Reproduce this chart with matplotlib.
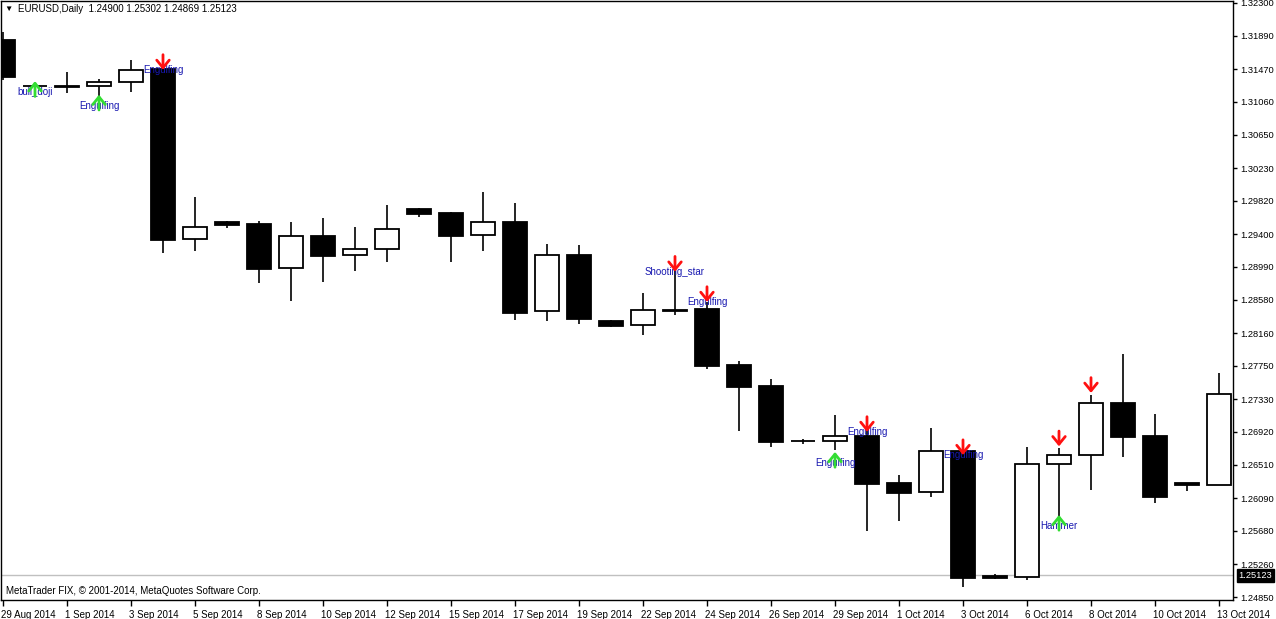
import numpy as np
import matplotlib.pyplot as plt
import matplotlib.transforms as mtransforms

plt.rcParams['font.family'] = ['Liberation Sans', 'DejaVu Sans']

# daily bars (MetaTrader shows the short sunday bars too)
dates = ['29 Aug 2014', '31 Aug 2014', '1 Sep 2014', '2 Sep 2014', '3 Sep 2014', '4 Sep 2014',
         '5 Sep 2014', '7 Sep 2014', '8 Sep 2014', '9 Sep 2014', '10 Sep 2014', '11 Sep 2014',
         '12 Sep 2014', '14 Sep 2014', '15 Sep 2014', '16 Sep 2014', '17 Sep 2014', '18 Sep 2014',
         '19 Sep 2014', '21 Sep 2014', '22 Sep 2014', '23 Sep 2014', '24 Sep 2014', '25 Sep 2014',
         '26 Sep 2014', '28 Sep 2014', '29 Sep 2014', '30 Sep 2014', '1 Oct 2014', '2 Oct 2014',
         '3 Oct 2014', '5 Oct 2014', '6 Oct 2014', '7 Oct 2014', '8 Oct 2014', '9 Oct 2014',
         '10 Oct 2014', '12 Oct 2014', '13 Oct 2014']

opens = [1.3184, 1.3126, 1.3126, 1.3126, 1.3131, 1.3147, 1.2934, 1.2955, 1.2953, 1.2898,
         1.2938, 1.2914, 1.2921, 1.2972, 1.2967, 1.2939, 1.2955, 1.2844, 1.2914, 1.2831,
         1.2826, 1.2845, 1.2846, 1.2776, 1.2750, 1.2681, 1.2681, 1.2687, 1.2628, 1.2617,
         1.2668, 1.2511, 1.2510, 1.2652, 1.2663, 1.2728, 1.2687, 1.2628, 1.2626]
highs = [1.3194, 1.3130, 1.3143, 1.3135, 1.3159, 1.3161, 1.2987, 1.2957, 1.2957, 1.2955,
         1.2960, 1.2949, 1.2977, 1.2973, 1.2968, 1.2993, 1.2979, 1.2928, 1.2926, 1.2832,
         1.2866, 1.2903, 1.2855, 1.2781, 1.2758, 1.2683, 1.2713, 1.2701, 1.2638, 1.2697,
         1.2676, 1.2514, 1.2673, 1.2672, 1.2738, 1.2790, 1.2715, 1.2628, 1.2766]
lows = [1.3133, 1.3125, 1.3117, 1.3110, 1.3118, 1.2917, 1.2919, 1.2948, 1.2879, 1.2856,
        1.2880, 1.2894, 1.2905, 1.2962, 1.2905, 1.2919, 1.2832, 1.2831, 1.2827, 1.2824,
        1.2814, 1.2839, 1.2771, 1.2693, 1.2673, 1.2677, 1.2669, 1.2568, 1.2580, 1.2610,
        1.2498, 1.2508, 1.2506, 1.2578, 1.2619, 1.2661, 1.2603, 1.2618, 1.2625]
closes = [1.3137, 1.3126, 1.3125, 1.3131, 1.3146, 1.2933, 1.2949, 1.2952, 1.2896, 1.2938,
          1.2913, 1.2921, 1.2947, 1.2965, 1.2938, 1.2955, 1.2841, 1.2914, 1.2834, 1.2825,
          1.2845, 1.2844, 1.2775, 1.2748, 1.2679, 1.2681, 1.2687, 1.2627, 1.2615, 1.2668,
          1.2509, 1.2509, 1.2652, 1.2663, 1.2728, 1.2686, 1.2610, 1.2626, 1.2740]

price_ticks = [1.32300, 1.31890, 1.31470, 1.31060, 1.30650, 1.30230, 1.29820, 1.29400,
               1.28990, 1.28580, 1.28160, 1.27750, 1.27330, 1.26920, 1.26510, 1.26090,
               1.25680, 1.25260, 1.24850]
bid = 1.25123

# pattern markers from the indicator
ann_bars = [1, 3, 5, 21, 22, 26, 27, 30, 33, 33, 34]
ann_prices = [1.3132, 1.3115, 1.3146, 1.2893, 1.2855, 1.2667, 1.2692, 1.2663, 1.2674, 1.2588, 1.2741]
ann_dirs = ['up', 'up', 'down', 'down', 'down', 'up', 'down', 'down', 'down', 'up', 'down']
ann_texts = ['bull_doji', 'Engulfing', 'Engulfing', 'Shooting_star', 'Engulfing', 'Engulfing',
             'Engulfing', 'Engulfing', '', 'Hammer', '']

o = np.array(opens)
c = np.array(closes)
x = np.arange(len(dates))

fig = plt.figure(figsize=(12.76, 6.19), dpi=100)
ax = fig.add_axes([1 / 1276, 19 / 619, 1232 / 1276, 599 / 619])

ax.axhline(bid, color='#c0c0c0', lw=1, zorder=1)
ax.vlines(x, lows, highs, color='black', lw=1.2, zorder=2)
body_col = ['black' if cl < op else 'white' for op, cl in zip(opens, closes)]
ax.bar(x, np.abs(c - o), width=0.78, bottom=np.minimum(o, c), color=body_col,
       edgecolor='black', linewidth=1.3, zorder=3)

for b, p, d, t in zip(ann_bars, ann_prices, ann_dirs, ann_texts):
    if d == 'down':
        col, off, toff = '#ff1010', 11, 0
    else:
        col, off, toff = '#33dd33', -11, -8
    if t:
        ax.annotate(t, xy=(b, p), xytext=(0, toff), textcoords='offset points',
                    ha='center', va='center', fontsize=7, color='#1818b0', zorder=5)
    ax.annotate('', xy=(b, p), xytext=(0, off), textcoords='offset points',
                arrowprops=dict(arrowstyle='->,head_length=0.55,head_width=0.45', color=col,
                                lw=2, shrinkA=0, shrinkB=0), zorder=6)

ax.set_xlim(-0.0625, 38.4375)
ax.set_ylim(1.24813, 1.32325)

ax.yaxis.tick_right()
ax.set_yticks(price_ticks)
ax.set_yticklabels(['%.5f' % v for v in price_ticks])
ax.tick_params(axis='y', direction='out', length=3, width=1, pad=2.5, labelsize=6.7)

ax.set_xticks(x[::2])
ax.set_xticklabels(dates[::2], ha='left')
ax.tick_params(axis='x', direction='out', length=4, width=1, pad=3, labelsize=7)
shift = mtransforms.ScaledTranslation(-2 / 100, 0, fig.dpi_scale_trans)
for lab in ax.get_xticklabels():
    lab.set_transform(lab.get_transform() + shift)

for s in ax.spines.values():
    s.set_linewidth(1)

# current bid label on the price scale
ax.annotate('%.5f' % bid, xy=(1.0, bid), xycoords=ax.get_yaxis_transform(),
            xytext=(4, 0), textcoords='offset points', ha='left', va='center',
            fontsize=6.7, color='white', zorder=7, annotation_clip=False,
            bbox=dict(boxstyle='square,pad=0.2', fc='black', ec='black'))

ax.text(0.0024, 0.9866, '\u25bc', transform=ax.transAxes, fontsize=6, va='center', ha='left')
ax.text(0.0138, 0.9866, 'EURUSD,Daily  1.24900 1.25302 1.24869 1.25123', transform=ax.transAxes,
        fontsize=7, va='center', ha='left')
ax.text(0.004, 0.015, 'MetaTrader FIX, \u00a9 2001-2014, MetaQuotes Software Corp.',
        transform=ax.transAxes, fontsize=7, va='center', ha='left')

fig.savefig('out.png', dpi=100)
